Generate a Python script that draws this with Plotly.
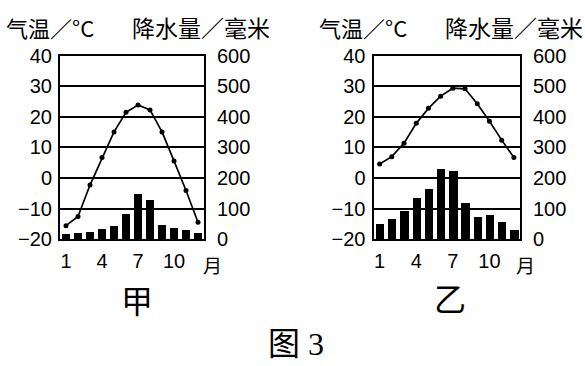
import plotly.graph_objects as go

months = list(range(1, 13))
month_ticks = [1, 4, 7, 10]
temp_ticks = [-20, -10, 0, 10, 20, 30, 40]
precip_ticks = [0, 100, 200, 300, 400, 500, 600]

temp_jia = [-15.6, -12.6, -2.3, 6.7, 15.1, 21.5, 23.9, 22.3, 15.1, 5.6, -4.1, -14.5]
precip_jia = [17, 19, 25, 33, 42, 84, 148, 130, 47, 36, 30, 22]

temp_yi = [4.6, 7.0, 11.4, 17.9, 22.8, 26.8, 29.4, 29.2, 24.3, 18.6, 12.4, 6.7]
precip_yi = [49, 65, 93, 136, 164, 229, 222, 118, 74, 81, 58, 30]

W, H = 585, 366
TICKFONT = dict(family="Liberation Sans, Arial, sans-serif", size=20, color="black")
CJK = "Noto Sans CJK SC"

fig = go.Figure()

# left chart (甲)
fig.add_trace(go.Bar(x=months, y=precip_jia, xaxis="x", yaxis="y",
                     marker=dict(color="black", line=dict(width=0)), width=0.68))
fig.add_trace(go.Scatter(x=months, y=temp_jia, xaxis="x", yaxis="y2", mode="lines+markers",
                         line=dict(color="black", width=1.7), marker=dict(color="black", size=5)))
# right chart (乙)
fig.add_trace(go.Bar(x=months, y=precip_yi, xaxis="x2", yaxis="y3",
                     marker=dict(color="black", line=dict(width=0)), width=0.68))
fig.add_trace(go.Scatter(x=months, y=temp_yi, xaxis="x2", yaxis="y4", mode="lines+markers",
                         line=dict(color="black", width=1.7), marker=dict(color="black", size=5)))

def px_x(v):
    return v / W

def px_y(v):
    return 1 - v / H

ydom = [px_y(242.7), px_y(47.7)]
left_dom = [px_x(60), px_x(204)]
right_dom = [px_x(373.5), px_x(520)]

def xaxis(dom, anchor):
    return dict(domain=dom, anchor=anchor, range=[0.5, 12.5], tickmode="array",
                tickvals=month_ticks, ticktext=[str(m) for m in month_ticks],
                showline=True, mirror=True, linecolor="black", linewidth=2,
                showgrid=False, zeroline=False, ticks="", tickfont=TICKFONT,
                ticklabelstandoff=3)

def precip_axis(anchor):
    return dict(domain=ydom, anchor=anchor, side="right", range=[0, 600], tickmode="array",
                tickvals=precip_ticks, showline=True, mirror=True, linecolor="black", linewidth=2,
                showgrid=True, gridcolor="black", gridwidth=1.6, zeroline=False, ticks="",
                tickfont=TICKFONT, ticklabelstandoff=7)

def temp_axis(overlay, anchor):
    return dict(overlaying=overlay, anchor=anchor, side="left", range=[-20, 40], tickmode="array",
                tickvals=temp_ticks, ticktext=[str(t).replace("-", "\u2212") for t in temp_ticks],
                showline=False, showgrid=False, zeroline=False, ticks="",
                tickfont=TICKFONT, ticklabelstandoff=7)

fig.update_layout(
    width=W, height=H, margin=dict(l=0, r=0, t=0, b=0),
    paper_bgcolor="white", plot_bgcolor="white", showlegend=False, bargap=0,
    xaxis=xaxis(left_dom, "y"),
    xaxis2=xaxis(right_dom, "y3"),
    yaxis=precip_axis("x"),
    yaxis2=temp_axis("y", "x"),
    yaxis3=precip_axis("x2"),
    yaxis4=temp_axis("y3", "x2"),
)

def ann(text, x, y, size, family=CJK, xanchor="center", yanchor="middle"):
    fig.add_annotation(text=text, x=px_x(x), y=px_y(y), xref="paper", yref="paper",
                       showarrow=False, xanchor=xanchor, yanchor=yanchor,
                       font=dict(family=family, size=size, color="black"))

# axis titles
ann("气温／°C", 4, 17, 22, xanchor="left")
ann("降水量／毫米", 130, 17, 23, xanchor="left")
ann("气温／°C", 317, 17, 22, xanchor="left")
ann("降水量／毫米", 443, 17, 23, xanchor="left")
# month unit
ann("月", 212, 253, 19, yanchor="top")
ann("月", 525, 253, 19, yanchor="top")
# chart labels
ann("甲", 137, 306, 32)
ann("乙", 450, 304, 32)
ann("图 3", 296, 354, 32, family="Liberation Serif, " + CJK)

fig.write_html("out.html")
